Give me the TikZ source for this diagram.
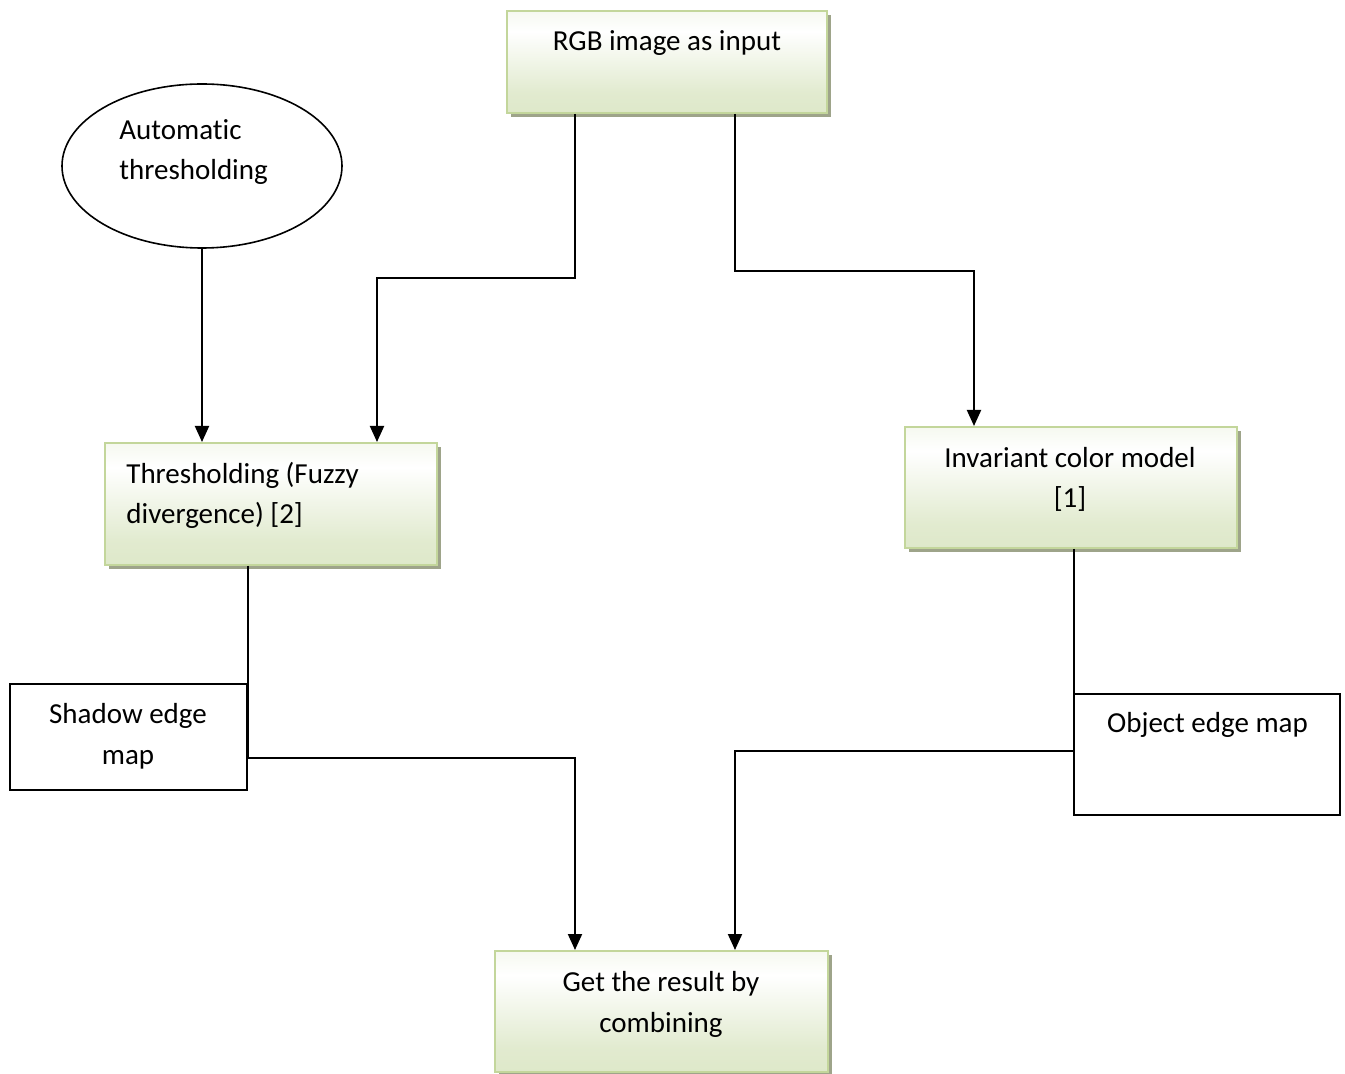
\documentclass[tikz,border=0pt]{standalone}
\usepackage{fontspec}
\setmainfont{Carlito}[Ligatures=NoCommon]
\usetikzlibrary{arrows.meta, shapes.geometric, shadows, positioning}
\definecolor{gtop}{RGB}{232,239,217}
\definecolor{gbot}{RGB}{213,226,187}
\definecolor{gline}{RGB}{195,214,155}
\definecolor{gshadow}{RGB}{158,164,138}
\pgfdeclareverticalshading{greenbox}{100bp}{color(0bp)=(gbot); color(35bp)=(gbot!70!white); color(65bp)=(white); color(90bp)=(gtop); color(100bp)=(gtop)}
\tikzset{%
>={Triangle[width=7pt,length=8pt]},
  % Specifications for style of nodes:
            gbox/.style = {rectangle, draw=gline, line width=1pt, shading=greenbox,
                            inner sep=0pt, drop shadow={shadow xshift=2pt, shadow yshift=-2pt,
                            fill=gshadow, opacity=1}},
            wbox/.style = {rectangle, draw=black, line width=0.8pt, fill=white, inner sep=0pt},
            txt/.style = {inner sep=0pt, font=\fontsize{14.5}{20.3}\selectfont},
            conn/.style = {draw=black, line width=1pt}
}
\begin{document}
\begin{tikzpicture}[x=0.5pt, y=-0.5pt]
                \useasboundingbox (0,0) rectangle (1345,1074);

                \node[gbox, minimum width=160pt, minimum height=51pt] (rgb) at (667,62) {};
                \node[txt] (rgbt) at (667,43) {RGB image as input};

                \node[ellipse, draw=black, line width=0.8pt, minimum width=140pt, minimum height=82pt] (auto) at (202,166) {};
                \node[txt, anchor=west, align=left] (autot) at (119,152) {Automatic\\thresholding};

                \node[gbox, minimum width=166pt, minimum height=61pt] (thr) at (271,504) {};
                \node[txt, anchor=west, align=left] (thrt) at (126,495.5) {Thresholding (Fuzzy\\divergence) [2]};

                \node[gbox, minimum width=166pt, minimum height=60.5pt] (inv) at (1071,487.5) {};
                \node[txt, align=center] (invt) at (1070,479.5) {Invariant color model\\{[1]}};

                \node[wbox, minimum width=118.5pt, minimum height=53pt] (shd) at (128.5,737) {};
                \node[txt, align=center] (shdt) at (128,736.5) {Shadow edge\\map};

                \node[wbox, minimum width=133pt, minimum height=60.5pt] (obj) at (1207,754.5) {};
                \node[txt] (objt) at (1207.5,725) {Object edge map};

                \node[gbox, minimum width=166.5pt, minimum height=60.5pt] (res) at (661.5,1011.5) {};
                \node[txt, align=center] (rest) at (661,1004.5) {Get the result by\\combining};

                \draw[conn, ->] ([xshift=-46pt]rgb.south) -- ++(0,164) -| ([xshift=53pt]thr.north);
                \draw[conn, ->] ([xshift=34pt]rgb.south) -- ++(0,157) -| ([xshift=-48.5pt]inv.north);
                \draw[conn, ->] (auto.south) -- (auto.south |- thr.north);
                \draw[conn, ->] ([xshift=-11.5pt]thr.south) -- ++(0,192) -| ([xshift=-43.25pt]res.north);
                \draw[conn, ->] ([xshift=1.5pt]inv.south) -- ++(0,202) -| ([xshift=36.75pt]res.north);

            \end{tikzpicture}
\end{document}
